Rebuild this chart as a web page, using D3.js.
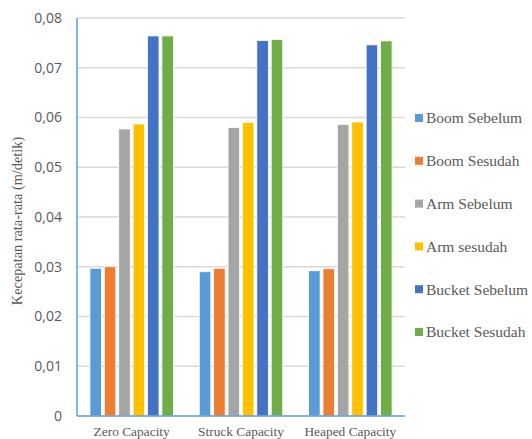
<!DOCTYPE html>
<html>
<head>
<meta charset="utf-8">
<script src="https://cdn.jsdelivr.net/npm/d3@7"></script>
<style>
  body { margin: 0; background: #fff; }
  svg { display: block; }
</style>
</head>
<body>
<div id="my_dataviz"></div>
<script>
// data
var categories = ["Zero Capacity", "Struck Capacity", "Heaped Capacity"];
var series = ["Boom Sebelum", "Boom Sesudah", "Arm Sebelum", "Arm sesudah", "Bucket Sebelum", "Bucket Sesudah"];
var colors = ["#5b9bd5", "#ed7d31", "#a5a5a5", "#ffc000", "#4472c4", "#70ad47"];
var boomSebelum   = [0.0297, 0.0290, 0.0292];
var boomSesudah   = [0.0300, 0.0297, 0.0296];
var armSebelum    = [0.0577, 0.0580, 0.0586];
var armSesudah    = [0.0587, 0.0590, 0.0591];
var bucketSebelum = [0.0764, 0.0755, 0.0746];
var bucketSesudah = [0.0764, 0.0757, 0.0754];
var yTicks = [0, 0.01, 0.02, 0.03, 0.04, 0.05, 0.06, 0.07, 0.08];
var yTickLabels = ["0", "0,01", "0,02", "0,03", "0,04", "0,05", "0,06", "0,07", "0,08"];

var values = [boomSebelum, boomSesudah, armSebelum, armSesudah, bucketSebelum, bucketSesudah];

// set the dimensions and margins of the graph
var margin = {top: 18, right: 127, bottom: 23, left: 77},
    width = 532 - margin.left - margin.right,
    height = 439 - margin.top - margin.bottom;

var svg = d3.select("#my_dataviz")
  .append("svg")
    .attr("width", 532)
    .attr("height", 439)
  .append("g")
    .attr("transform", "translate(" + margin.left + "," + margin.top + ")");

// scales
var x0 = d3.scaleBand()
  .domain(categories)
  .range([0, width])
  .padding(0);
var inset = 11.5;
var x1 = d3.scaleBand()
  .domain(series)
  .range([inset, x0.bandwidth() - inset])
  .paddingInner(0.2)
  .paddingOuter(0.1);
var y = d3.scaleLinear()
  .domain([0, 0.08])
  .range([height, 0]);

// gridlines
svg.append("g")
  .selectAll("line")
  .data(yTicks.slice(1))
  .enter()
  .append("line")
    .attr("x1", 0)
    .attr("x2", width)
    .attr("y1", function(d) { return y(d); })
    .attr("y2", function(d) { return y(d); })
    .attr("stroke", "#d9d9d9")
    .attr("stroke-width", 1.5);

// y tick labels
var yAxis = svg.append("g")
  .call(d3.axisLeft(y).tickValues(yTicks).tickSize(0).tickPadding(15)
    .tickFormat(function(d, i) { return yTickLabels[i]; }));
yAxis.select(".domain").remove();
yAxis.selectAll("text")
  .style("font", "14px 'Open Sans', 'Liberation Sans', sans-serif")
  .attr("fill", "#595959");

// bars
var groups = svg.append("g")
  .selectAll("g")
  .data(categories)
  .enter()
  .append("g")
    .attr("transform", function(d) { return "translate(" + x0(d) + ",0)"; });

groups.selectAll("rect")
  .data(function(d, ci) {
    return series.map(function(s, si) { return {key: s, value: values[si][ci], color: colors[si]}; });
  })
  .enter()
  .append("rect")
    .attr("x", function(d) { return x1(d.key); })
    .attr("y", function(d) { return y(d.value); })
    .attr("width", x1.bandwidth())
    .attr("height", function(d) { return height - y(d.value); })
    .attr("fill", function(d) { return d.color; })
    .attr("stroke", "#fff")
    .attr("stroke-width", 0.8);

// blue axis lines (left + bottom)
svg.append("line")
  .attr("x1", 0).attr("x2", 0)
  .attr("y1", 0).attr("y2", height)
  .attr("stroke", "#5b9bd5").attr("stroke-width", 1.5);
svg.append("line")
  .attr("x1", 0).attr("x2", width)
  .attr("y1", height).attr("y2", height)
  .attr("stroke", "#5b9bd5").attr("stroke-width", 1.5);

// x labels
var xAxis = svg.append("g")
  .attr("transform", "translate(0," + height + ")")
  .call(d3.axisBottom(x0).tickSize(0).tickPadding(10));
xAxis.select(".domain").remove();
xAxis.selectAll("text")
  .style("font", "13.4px 'Liberation Serif', 'Times New Roman', serif")
  .attr("fill", "#595959");

// y axis title
svg.append("text")
  .attr("transform", "rotate(-90)")
  .attr("x", -(height / 2) - 4)
  .attr("y", -margin.left + 22)
  .attr("text-anchor", "middle")
  .style("font", "14.3px 'Liberation Serif', 'Times New Roman', serif")
  .attr("fill", "#595959")
  .text("Kecepatan rata-rata (m/detik)");

// legend
var legend = svg.append("g")
  .attr("transform", "translate(" + (width + 10) + ",0)");
var item = legend.selectAll("g")
  .data(series)
  .enter()
  .append("g")
    .attr("transform", function(d, i) { return "translate(0," + (100 + i * 42.8) + ")"; });
item.append("rect")
  .attr("x", 0)
  .attr("y", -4)
  .attr("width", 8)
  .attr("height", 8)
  .attr("fill", function(d, i) { return colors[i]; });
item.append("text")
  .attr("x", 11)
  .attr("dy", "0.35em")
  .style("font", "15.5px 'Liberation Serif', 'Times New Roman', serif")
  .attr("fill", "#595959")
  .text(function(d) { return d; });
</script>
</body>
</html>
